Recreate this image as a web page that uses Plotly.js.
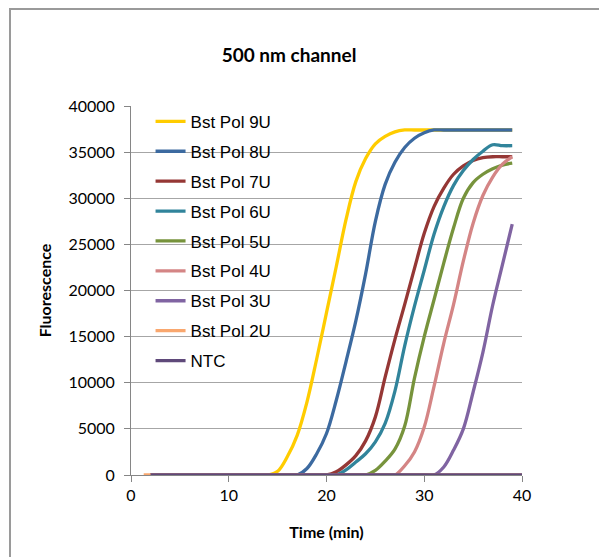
<!DOCTYPE html>
<html>
<head>
<meta charset="utf-8">
<script src="https://cdn.plot.ly/plotly-3.0.1.min.js"></script>
<style>
  html, body { margin: 0; padding: 0; background: #fff; }
  #wrap { position: relative; width: 599px; height: 557px; overflow: hidden; }
  #chart { width: 599px; height: 557px; }
  #frame { position: absolute; left: 9px; top: 8px; width: 620px; height: 600px;
           border-top: 2px solid #9a9a9a; border-left: 2px solid #9a9a9a; pointer-events: none; }
</style>
</head>
<body>
<div id="wrap">
  <div id="chart"></div>
  <div id="frame"></div>
</div>
<script>
// Time (min) sampling for the amplification curves
const time = [2,3,4,5,6,7,8,9,10,11,12,13,14,15,16,17,18,19,20,21,22,23,24,25,26,27,28,29,30,31,32,33,34,35,36,37,38,39];
const timeNTC = [2,3,4,5,6,7,8,9,10,11,12,13,14,15,16,17,18,19,20,21,22,23,24,25,26,27,28,29,30,31,32,33,34,35,36,37,38,39,40];
const time2U = [1.3, 40.6];

// Fluorescence values
const bst9U = [0,0,0,0,0,0,0,0,0,0,0,0,0,400,2000,4300,7900,12600,17600,22600,27700,31800,34300,35900,36700,37200,37400,37400,37400,37400,37400,37400,37400,37400,37400,37400,37400,37400];
const bst8U = [0,0,0,0,0,0,0,0,0,0,0,0,0,0,0,0,700,2300,4500,8100,12300,16700,21800,27500,31500,33900,35500,36500,37100,37400,37400,37400,37400,37400,37400,37400,37400,37400];
const bst7U = [0,0,0,0,0,0,0,0,0,0,0,0,0,0,0,0,0,0,0,350,1100,2100,3700,6300,10600,14700,18500,22400,26200,29100,31100,32600,33500,34100,34400,34500,34500,34500];
const bst6U = [0,0,0,0,0,0,0,0,0,0,0,0,0,0,0,0,0,0,0,0,550,1400,2300,3600,5600,9100,14000,18300,22200,26100,29100,31400,33000,34200,35100,35800,35700,35700];
const bst5U = [0,0,0,0,0,0,0,0,0,0,0,0,0,0,0,0,0,0,0,0,0,0,0,500,1500,2800,5300,10500,15000,19000,23000,26800,30000,31700,32600,33200,33600,33800];
const bst4U = [0,0,0,0,0,0,0,0,0,0,0,0,0,0,0,0,0,0,0,0,0,0,0,0,0,0,1000,2500,5200,9600,14300,18500,23200,27300,30300,32300,33700,34500];
const bst3U = [0,0,0,0,0,0,0,0,0,0,0,0,0,0,0,0,0,0,0,0,0,0,0,0,0,0,0,0,0,0,870,2700,5000,9000,13300,18400,22800,27200];
const bst2U = [0, 0];
const ntc = [0,0,0,0,0,0,0,0,0,0,0,0,0,0,0,0,0,0,0,0,0,0,0,0,0,0,0,0,0,0,0,0,0,0,0,0,0,0,0];

const seriesNames = ["Bst Pol 9U","Bst Pol 8U","Bst Pol 7U","Bst Pol 6U","Bst Pol 5U","Bst Pol 4U","Bst Pol 3U","Bst Pol 2U","NTC"];
const seriesColors = ["#FFCC00","#3C6AA0","#953735","#31849B","#77933C","#D48585","#8064A2","#F9A76E","#5F497A"];
const seriesX = [time, time, time, time, time, time, time, time2U, timeNTC];
const seriesY = [bst9U, bst8U, bst7U, bst6U, bst5U, bst4U, bst3U, bst2U, ntc];

const xTicks = [0, 10, 20, 30, 40];
const yTicks = [0, 5000, 10000, 15000, 20000, 25000, 30000, 35000, 40000];

const traces = seriesNames.map((name, i) => ({
  type: 'scatter',
  mode: 'lines',
  name: name,
  legendgroup: name,
  x: seriesX[i],
  y: seriesY[i],
  line: { color: seriesColors[i], width: 3.3, shape: 'spline', smoothing: 1.0 },
  hoverinfo: 'skip'
}));

const layout = {
  width: 599,
  height: 557,
  margin: { l: 131, r: 77, t: 106, b: 82 },
  paper_bgcolor: '#fff',
  plot_bgcolor: '#fff',
  showlegend: true,
  title: {
    text: '<b>500 nm channel</b>',
    font: { family: 'Lato, sans-serif', size: 19, color: '#000' },
    x: 289 / 599, xref: 'container', xanchor: 'center',
    y: 1 - 55 / 557, yref: 'container', yanchor: 'middle'
  },
  legend: {
    x: 0.05, y: 1.006, xanchor: 'left', yanchor: 'top',
    bgcolor: 'rgba(0,0,0,0)', borderwidth: 0,
    font: { family: 'Liberation Sans, Arial, sans-serif', size: 17, color: '#000' },
    tracegroupgap: 4.8,
    itemwidth: 30
  },
  xaxis: {
    range: [0, 40],
    tickvals: xTicks,
    ticktext: xTicks.map(String),
    ticks: 'outside', ticklen: 6, tickcolor: '#868686', tickwidth: 1,
    showline: true, linecolor: '#868686', linewidth: 1,
    showgrid: false, zeroline: false,
    tickfont: { family: 'Lato, sans-serif', size: 16, color: '#000' },
    title: { text: '<b>Time (min)</b>', font: { family: 'Lato, sans-serif', size: 16, color: '#000' }, standoff: 23 },
    automargin: false
  },
  yaxis: {
    range: [0, 40000],
    tickvals: yTicks,
    ticktext: yTicks.map(String),
    ticks: 'outside', ticklen: 6, tickcolor: '#868686', tickwidth: 1,
    ticklabelstandoff: 6,
    showline: true, linecolor: '#868686', linewidth: 1,
    showgrid: true, gridcolor: '#A6A6A6', gridwidth: 1,
    zeroline: false,
    tickfont: { family: 'Lato, sans-serif', size: 16, color: '#000' },
    title: { text: '<b>Fluorescence</b>', font: { family: 'Lato, sans-serif', size: 16, color: '#000' }, standoff: 12 },
    automargin: false
  }
};

Plotly.newPlot('chart', traces, layout, { staticPlot: true, displayModeBar: false });
</script>
</body>
</html>
